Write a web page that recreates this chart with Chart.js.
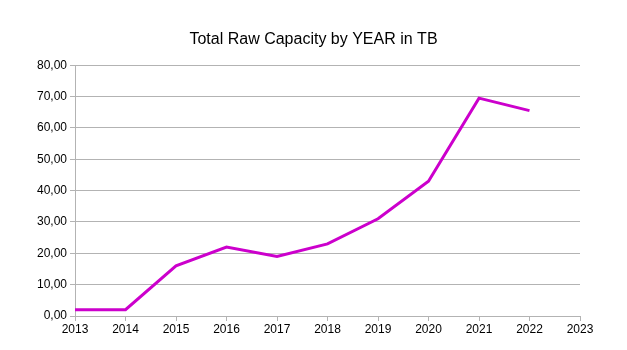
<!DOCTYPE html>
<html>
<head>
<meta charset="utf-8">
<script src="https://cdn.jsdelivr.net/npm/chart.js@4/dist/chart.umd.min.js"></script>
<style>
  html, body { margin: 0; padding: 0; background: #fff; }
  #wrap { width: 627px; height: 350px; }
</style>
</head>
<body>
<div id="wrap"><canvas id="capChart" width="627" height="350"></canvas></div>
<script>
const years = [2013, 2014, 2015, 2016, 2017, 2018, 2019, 2020, 2021, 2022];
const capacityTB = [2, 2, 16, 22, 19, 23, 31, 43, 69.5, 65.5];

const gridGrey = '#b3b3b3';

const ctx = document.getElementById('capChart').getContext('2d');
new Chart(ctx, {
    type: 'line',
    data: {
        datasets: [{
            label: 'Total Raw Capacity',
            data: years.map((y, i) => ({ x: y, y: capacityTB[i] })),
            borderColor: '#cc00cc',
            borderWidth: 3,
            pointRadius: 0,
            tension: 0,
            fill: false
        }]
    },
    options: {
        responsive: false,
        animation: false,
        layout: { padding: 0 },
        plugins: {
            legend: { display: false },
            tooltip: { enabled: false },
            title: {
                display: true,
                text: 'Total Raw Capacity by YEAR in TB',
                color: '#000',
                font: { family: 'Liberation Sans', size: 16, weight: 'normal' },
                padding: { top: 30, bottom: 16 }
            }
        },
        scales: {
            x: {
                type: 'linear',
                min: 2013,
                max: 2023,
                afterFit: s => { s.height = 34; },
                ticks: {
                    stepSize: 1,
                    color: '#000',
                    font: { family: 'Liberation Sans', size: 12 },
                    padding: 1,
                    maxRotation: 0,
                    callback: v => String(v)
                },
                grid: { drawOnChartArea: false, drawTicks: true, tickLength: 5, color: gridGrey },
                border: { color: gridGrey }
            },
            y: {
                min: 0,
                max: 80,
                afterFit: s => { s.width = 75; },
                ticks: {
                    stepSize: 10,
                    color: '#000',
                    font: { family: 'Liberation Sans', size: 12 },
                    padding: 3,
                    callback: v => v.toFixed(2).replace('.', ',')
                },
                grid: { color: gridGrey, tickLength: 5 },
                border: { color: gridGrey }
            },
            // empty right-hand spacer so the title stays centred on the page
            spacer: {
                type: 'linear',
                position: 'right',
                afterFit: s => { s.width = 47; },
                ticks: { display: false },
                grid: { display: false },
                border: { display: false }
            }
        }
    }
});
</script>
</body>
</html>
